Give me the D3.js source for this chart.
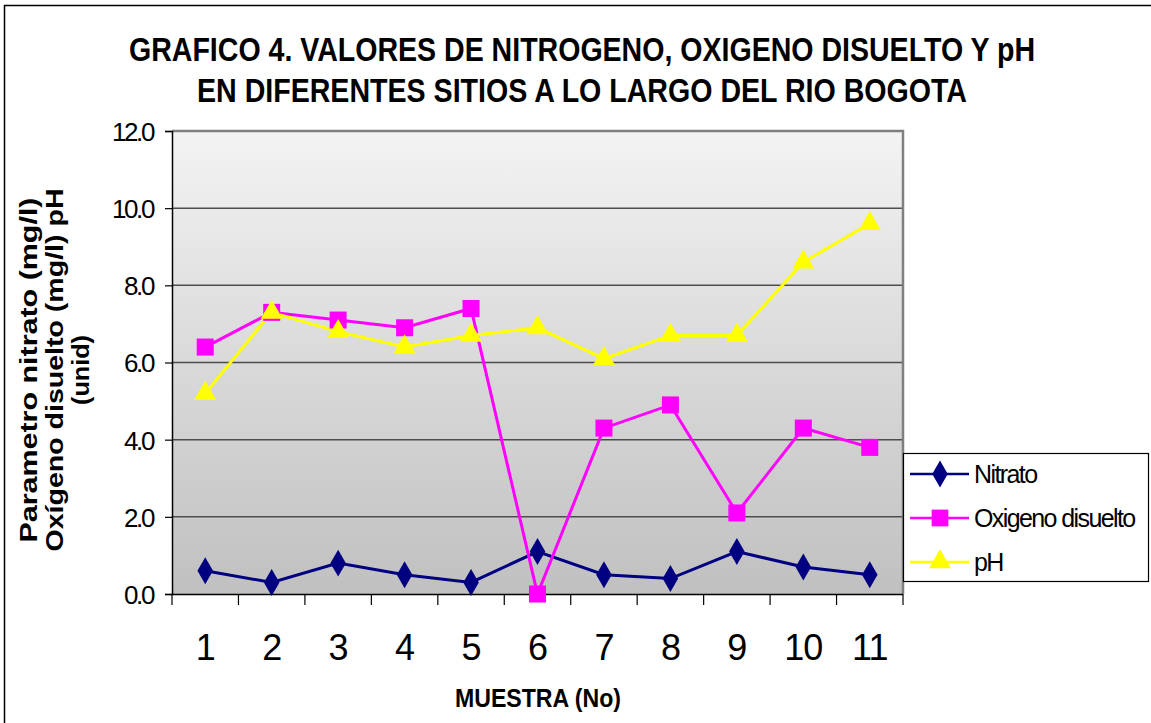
<!DOCTYPE html>
<html>
<head>
<meta charset="utf-8">
<script src="https://cdn.jsdelivr.net/npm/d3@7"></script>
<style>
  body { margin: 0; background: #fff; }
  text { font-family: "Liberation Sans", Arial, sans-serif; }
</style>
</head>
<body>
<div id="chart"></div>
<script>
// data
var muestras = ["1","2","3","4","5","6","7","8","9","10","11"];
var nitrato  = [0.6, 0.3, 0.8, 0.5, 0.3, 1.1, 0.5, 0.4, 1.1, 0.7, 0.5];
var oxigeno  = [6.4, 7.3, 7.1, 6.9, 7.4, 0.0, 4.3, 4.9, 2.1, 4.3, 3.8];
var ph       = [5.2, 7.3, 6.8, 6.4, 6.7, 6.9, 6.1, 6.7, 6.7, 8.6, 9.6];
var yTicks   = [0, 2, 4, 6, 8, 10, 12];
var titleLines = ["GRAFICO 4. VALORES DE NITROGENO, OXIGENO DISUELTO Y pH",
                  "EN DIFERENTES SITIOS A LO LARGO DEL RIO BOGOTA"];
var yTitleLines = ["Parametro nitrato (mg/l)", "Oxígeno disuelto (mg/l) pH", "(unid)"];

var series = [
    {name: "Nitrato", values: nitrato, color: "#000080", shape: d3.symbolDiamond},
    {name: "Oxigeno disuelto", values: oxigeno, color: "#ff00ff", shape: d3.symbolSquare},
    {name: "pH", values: ph, color: "#ffff00", shape: d3.symbolTriangle}
];

var width = 1151, height = 723;
var plotLeft = 172, plotRight = 903, plotTop = 131, plotBottom = 594;

var svg = d3.select("#chart").append("svg")
    .attr("width", width)
    .attr("height", height);

// outer chart border (cropped on the right / bottom)
svg.append("rect")
    .attr("x", 4.5).attr("y", 5.5)
    .attr("width", width + 10).attr("height", height + 10)
    .attr("fill", "#fff").attr("stroke", "#000").attr("stroke-width", 1.5);

var defs = svg.append("defs");
var grad = defs.append("linearGradient")
    .attr("id", "bg").attr("x1", 0).attr("y1", 0).attr("x2", 0).attr("y2", 1);
grad.append("stop").attr("offset", "0%").attr("stop-color", "#f3f3f3");
grad.append("stop").attr("offset", "100%").attr("stop-color", "#c0c0c0");

var x = d3.scaleBand().domain(muestras).range([plotLeft, plotRight]);
var y = d3.scaleLinear().domain([0, 12]).range([plotBottom, plotTop]);

// plot area
svg.append("rect")
    .attr("x", plotLeft).attr("y", plotTop)
    .attr("width", plotRight - plotLeft).attr("height", plotBottom - plotTop)
    .attr("fill", "url(#bg)");

// gridlines
svg.append("g").selectAll("line")
    .data(yTicks.filter(function(d) { return d > 0 && d < 12; }))
    .enter().append("line")
    .attr("x1", plotLeft).attr("x2", plotRight)
    .attr("y1", function(d) { return y(d); })
    .attr("y2", function(d) { return y(d); })
    .attr("stroke", "#4d4d4d").attr("stroke-width", 1.5);

// plot border top / right
svg.append("path")
    .attr("d", "M" + plotLeft + "," + plotTop + "H" + plotRight + "V" + plotBottom)
    .attr("fill", "none").attr("stroke", "#808080").attr("stroke-width", 2.5);

// y axis
var yAxis = svg.append("g")
    .attr("transform", "translate(" + plotLeft + ",0)")
    .call(d3.axisLeft(y).tickValues(yTicks).tickSize(7).tickPadding(12)
          .tickFormat(d3.format(".1f")));
yAxis.select(".domain").attr("stroke", "#000").attr("stroke-width", 1.5);
yAxis.selectAll(".tick line").attr("stroke", "#000").attr("stroke-width", 1.2);
yAxis.selectAll(".tick text")
    .attr("font-size", 26).attr("fill", "#000")
    .attr("letter-spacing", "-2.4px").attr("dy", "0.36em")
    .attr("font-family", "Liberation Sans, Arial, sans-serif");

// x axis: ticks on band boundaries
svg.append("line")
    .attr("x1", plotLeft).attr("x2", plotRight)
    .attr("y1", plotBottom + 0.5).attr("y2", plotBottom + 0.5)
    .attr("stroke", "#000").attr("stroke-width", 1.5);
var bounds = muestras.map(function(d) { return x(d); }).concat([plotRight]);
svg.append("g").selectAll("line")
    .data(bounds).enter().append("line")
    .attr("x1", function(d) { return d; }).attr("x2", function(d) { return d; })
    .attr("y1", plotBottom).attr("y2", plotBottom + 11)
    .attr("stroke", "#000").attr("stroke-width", 1.2);
svg.append("g").selectAll("text")
    .data(muestras).enter().append("text")
    .attr("x", function(d) { return x(d) + x.bandwidth() / 2; })
    .attr("y", 660)
    .attr("text-anchor", "middle")
    .attr("font-size", 36)
    .attr("letter-spacing", "-1px")
    .text(function(d) { return d; });

// lines and markers
var line = d3.line()
    .x(function(d, i) { return x(muestras[i]) + x.bandwidth() / 2; })
    .y(function(d) { return y(d); });

series.forEach(function(s) {
    svg.append("path")
        .datum(s.values)
        .attr("d", line)
        .attr("fill", "none")
        .attr("stroke", s.color)
        .attr("stroke-width", 3);
});
series.forEach(function(s) {
    var sizes = {"Nitrato": 210, "Oxigeno disuelto": 290, "pH": 210};
    svg.append("g").selectAll("path")
        .data(s.values).enter().append("path")
        .attr("transform", function(d, i) {
            return "translate(" + (x(muestras[i]) + x.bandwidth() / 2) + "," + y(d) + ")";
        })
        .attr("d", d3.symbol().type(s.shape).size(sizes[s.name]))
        .attr("fill", s.color);
});

// title
svg.append("g").selectAll("text")
    .data(titleLines).enter().append("text")
    .attr("x", 582)
    .attr("y", function(d, i) { return 61 + i * 41; })
    .attr("text-anchor", "middle")
    .attr("font-size", 34)
    .attr("font-weight", "bold")
    .attr("textLength", function(d, i) { return i === 0 ? 906 : 770; })
    .attr("lengthAdjust", "spacingAndGlyphs")
    .text(function(d) { return d; });

// x title
svg.append("text")
    .attr("x", 538).attr("y", 707)
    .attr("text-anchor", "middle")
    .attr("font-size", 26).attr("font-weight", "bold")
    .attr("textLength", 166).attr("lengthAdjust", "spacingAndGlyphs")
    .text("MUESTRA (No)");

// y title
var yTitleLen = [345, 363, 70];
svg.append("g").selectAll("text")
    .data(yTitleLines).enter().append("text")
    .attr("transform", function(d, i) {
        return "translate(" + (37 + i * 26) + ",370) rotate(-90)";
    })
    .attr("text-anchor", "middle")
    .attr("font-size", 24).attr("font-weight", "bold")
    .attr("textLength", function(d, i) { return yTitleLen[i]; })
    .attr("lengthAdjust", "spacingAndGlyphs")
    .text(function(d) { return d; });

// legend
var leg = svg.append("g");
leg.append("rect")
    .attr("x", 903.5).attr("y", 453.5)
    .attr("width", 245).attr("height", 128)
    .attr("fill", "#fff").attr("stroke", "#000").attr("stroke-width", 1.2);
series.forEach(function(s, i) {
    var cy = 474 + i * 44;
    leg.append("line")
        .attr("x1", 910).attr("x2", 969)
        .attr("y1", cy).attr("y2", cy)
        .attr("stroke", s.color).attr("stroke-width", 2.5);
    leg.append("path")
        .attr("transform", "translate(940," + cy + ")")
        .attr("d", d3.symbol().type(s.shape).size(s.name === "Oxigeno disuelto" ? 280 : 210))
        .attr("fill", s.color);
    leg.append("text")
        .attr("x", 974).attr("y", cy + 9)
        .attr("font-size", 25)
        .attr("letter-spacing", "-1.6px")
        .text(s.name);
});
</script>
</body>
</html>
